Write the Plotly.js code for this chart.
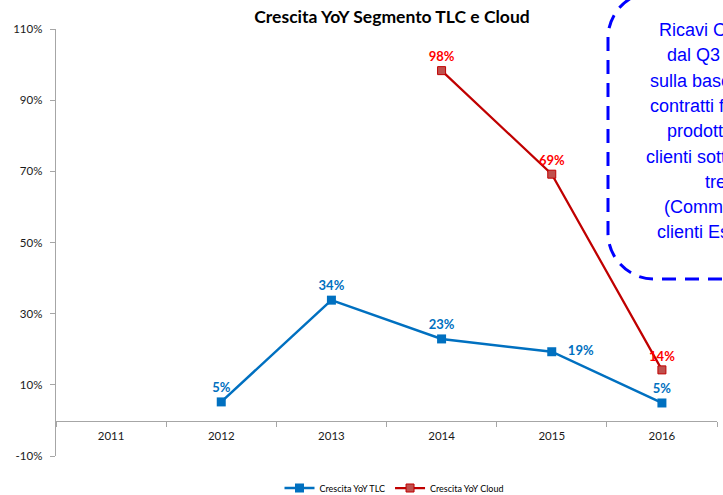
<!DOCTYPE html>
<html>
<head>
<meta charset="utf-8">
<script src="https://cdn.plot.ly/plotly-3.0.1.min.js"></script>
<style>
  html, body { margin: 0; padding: 0; background: #fff; overflow: hidden; }
  #chart { width: 723px; height: 495px; }
</style>
</head>
<body>
<div id="chart"></div>
<script>
// ---- data ----
const years = ['2011', '2012', '2013', '2014', '2015', '2016'];
const tlcGrowth = [null, 5.2, 33.8, 22.9, 19.3, 4.9];
const cloudGrowth = [null, null, null, 98.3, 69.2, 14.2];
const tlcLabels = ['', '5%', '34%', '23%', '19%', '5%'];
const cloudLabels = ['', '', '', '98%', '69%', '14%'];
const cloudNote = { year: '2013', value: 104, text: 'n.s.' };
const calloutLines = [
  'Ricavi Cloud',
  'dal Q3 2014',
  'sulla base delle',
  'contratti firmati',
  'prodotto con',
  'clienti sottoscritti',
  'tre',
  '(Commesse',
  'clienti Estero)'
];
const yTicks = [-10, 10, 30, 50, 70, 90, 110];

// ---- layout helpers (pixel -> paper) ----
const L = 56, R = 717, T = 29, B = 456;
const px = x => (x - L) / (R - L);
const py = y => (B - y) / (B - T);

const tlcPos = ['top center', 'top center', 'top center', 'top center', 'middle right', 'top center'];
const tlcText = tlcLabels.map((t, i) => tlcPos[i] === 'middle right' && t ? '\u00a0\u00a0\u00a0' + t : t);

const calloutLeft = [657, 665, 648, 648, 665, 644, 703, 662, 655];
const annotations = [];
calloutLines.forEach((t, i) => {
  annotations.push({
    xref: 'paper', yref: 'paper',
    x: px(calloutLeft[i]), y: py(30 + 25.3 * i),
    xanchor: 'left', yanchor: 'middle',
    text: t, showarrow: false,
    font: { family: 'Liberation Sans, Arial, sans-serif', size: 18, color: '#0000FF' }
  });
});
annotations.push({
  x: cloudNote.year, y: cloudNote.value, xref: 'x', yref: 'y',
  text: '<b>' + cloudNote.text + '</b>', showarrow: false, xshift: 5,
  font: { family: 'Lato, sans-serif', size: 10, color: '#FF0000' }
});

// rounded dashed callout box (extends beyond right edge)
const bx0 = 608, bx1 = 860, by0 = -8, by1 = 279, r = 46;
const k = 0.55 * r;
const boxPath =
  'M ' + px(bx1) + ',' + py(by1) +
  ' L ' + px(bx0 + r) + ',' + py(by1) +
  ' C ' + px(bx0 + r - k) + ',' + py(by1) + ' ' + px(bx0) + ',' + py(by1 - r + k) + ' ' + px(bx0) + ',' + py(by1 - r) +
  ' L ' + px(bx0) + ',' + py(by0 + r) +
  ' C ' + px(bx0) + ',' + py(by0 + r - k) + ' ' + px(bx0 + r - k) + ',' + py(by0) + ' ' + px(bx0 + r) + ',' + py(by0) +
  ' L ' + px(bx1) + ',' + py(by0);

const traces = [
  {
    x: years, y: tlcGrowth, name: 'Crescita YoY TLC',
    type: 'scatter', mode: 'lines+markers+text',
    text: tlcText,
    textposition: tlcPos,
    textfont: { family: 'Lato, sans-serif', size: 13, color: '#0070C0', weight: 'bold' },
    line: { color: '#0070C0', width: 2.5 },
    marker: { symbol: 'square', size: 9, color: '#0070C0' },
    connectgaps: false, cliponaxis: false
  },
  {
    x: years, y: cloudGrowth, name: 'Crescita YoY Cloud',
    type: 'scatter', mode: 'lines+markers+text',
    text: cloudLabels,
    textposition: 'top center',
    textfont: { family: 'Lato, sans-serif', size: 13, color: '#FF0000', weight: 'bold' },
    line: { color: '#C00000', width: 2.25 },
    marker: { symbol: 'square', size: 8, color: '#C0504D', line: { color: '#C00000', width: 1 } },
    cliponaxis: false
  }
];

const layout = {
  width: 723, height: 495,
  margin: { l: L, r: 723 - R, t: T, b: 495 - B, pad: 0, autoexpand: false },
  paper_bgcolor: '#fff', plot_bgcolor: '#fff',
  font: { family: 'Lato, sans-serif', size: 11, color: '#000' },
  title: {
    text: '<b>Crescita YoY Segmento TLC e Cloud</b>',
    x: px(392), xref: 'paper', xanchor: 'center',
    y: 1 - 17 / 495, yref: 'container', yanchor: 'middle',
    font: { family: 'Lato, sans-serif', size: 17.5, color: '#000' }
  },
  xaxis: {
    type: 'category', categoryorder: 'array', categoryarray: years,
    range: [-0.5, 5.5],
    anchor: 'free', position: py(420.5),
    showline: true, linecolor: '#A6A6A6', linewidth: 1.3,
    ticks: 'outside', tickson: 'boundaries', ticklen: 5, tickcolor: '#A6A6A6',
    ticklabelstandoff: 4,
    showgrid: false, zeroline: false,
    tickfont: { family: 'Lato, sans-serif', size: 11.5, color: '#1a1a1a' },
    fixedrange: true
  },
  yaxis: {
    range: [-10, 110], tickvals: yTicks, ticktext: yTicks.map(v => v + '%'),
    showline: true, linecolor: '#A6A6A6', linewidth: 1.3,
    ticks: 'outside', ticklen: 5, tickcolor: '#A6A6A6',
    ticklabelstandoff: 5,
    showgrid: false, zeroline: false,
    tickfont: { family: 'Lato, sans-serif', size: 11.5, color: '#1a1a1a' },
    fixedrange: true
  },
  showlegend: true,
  legend: {
    orientation: 'h', x: px(394), xanchor: 'center', y: -(488 - B) / (B - T), yanchor: 'middle',
    font: { family: 'Lato, sans-serif', size: 9, color: '#000' },
    itemwidth: 30, tracegroupgap: 0
  },
  shapes: [{
    type: 'path', xref: 'paper', yref: 'paper', path: boxPath,
    line: { color: '#0000FF', width: 3, dash: '14px,9px' }
  }],
  annotations: annotations
};

Plotly.newPlot('chart', traces, layout, { displayModeBar: false, staticPlot: true });
</script>
</body>
</html>
